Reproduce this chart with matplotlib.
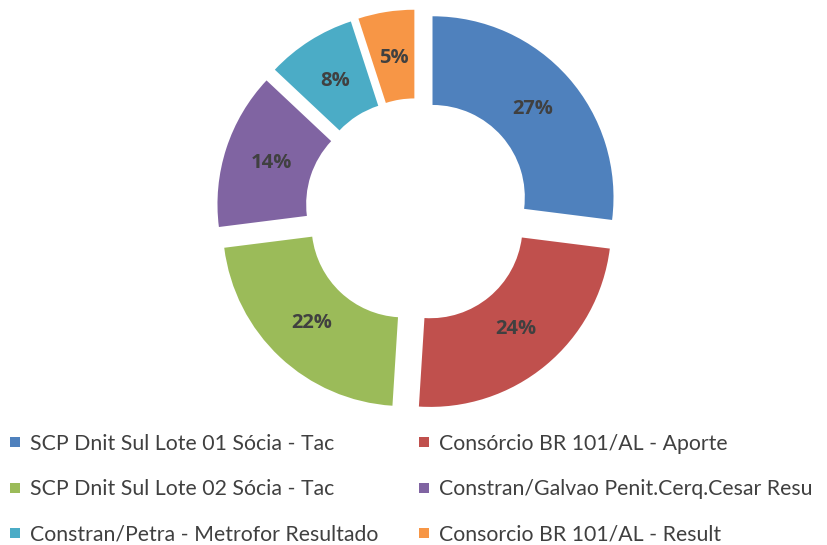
import numpy as np
import matplotlib.pyplot as plt
from matplotlib.lines import Line2D

# data
labels = ['SCP Dnit Sul Lote 01 Sócia - Tac',
          'Consórcio BR 101/AL - Aporte',
          'SCP Dnit Sul Lote 02 Sócia - Tac',
          'Constran/Galvao Penit.Cerq.Cesar Resu',
          'Constran/Petra - Metrofor Resultado',
          'Consorcio BR 101/AL - Result']
shares = [27, 24, 22, 14, 8, 5]
colors = ['#4F81BD', '#C0504D', '#9BBB59', '#8064A2', '#4BACC6', '#F79646']

W, H = 827, 545
fig = plt.figure(figsize=(W / 100, H / 100), dpi=100)
ax = fig.add_axes([0, 0, 1, 1])

R = 181
# explode is in data units here (pie doesn't scale it by radius)
wedges, texts = ax.pie(shares, colors=colors, startangle=90, counterclock=False,
                       radius=R, center=(417.5, H - 210.5),
                       explode=[20] * len(shares),
                       wedgeprops=dict(width=R * 0.49, linewidth=0),
                       labels=[f'{v}%' for v in shares], labeldistance=0.74,
                       textprops=dict(fontsize=14.5, fontweight='bold', color='#404040',
                                      family=['Open Sans', 'DejaVu Sans']))
for t in texts:
    t.set_ha('center')
    t.set_va('center')

ax.set_xlim(0, W)
ax.set_ylim(0, H)
ax.set_aspect('equal')
ax.axis('off')

#### legend, filled row by row like the original ####
order = [0, 2, 4, 1, 3, 5]
handles = [Line2D([], [], marker='s', linestyle='none', markersize=6.5,
                  markerfacecolor=colors[i], markeredgewidth=0) for i in order]
fig.legend(handles, [labels[i] for i in order], ncol=2, frameon=False,
           loc='lower left', bbox_to_anchor=(-0.01, -0.031),
           prop=dict(family=['Lato', 'DejaVu Sans'], size=15.3),
           labelcolor='#404040', handlelength=0.6, handletextpad=0.4,
           labelspacing=1.2, columnspacing=1.85, borderpad=0.3)

fig.savefig('out.png', dpi=100)
